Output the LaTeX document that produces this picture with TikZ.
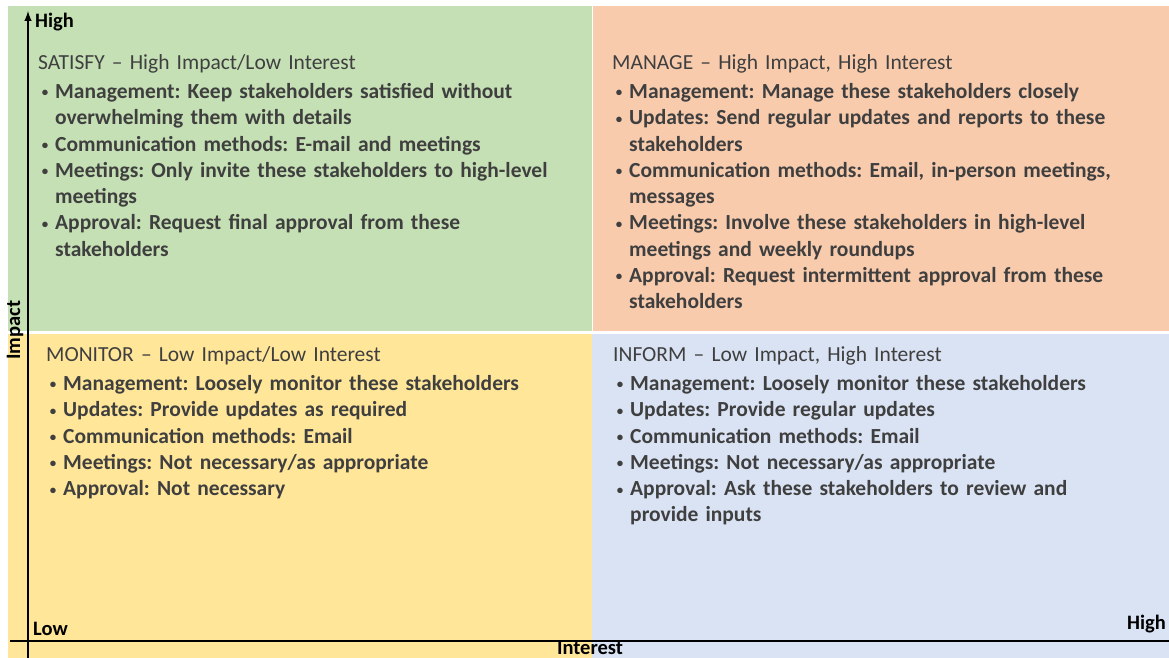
\documentclass[tikz,border=0pt]{standalone}
\usepackage{fontspec}
\setmainfont{Carlito}
\usepackage{xcolor}
\usepackage{tikz}
\usepackage{enumitem}
\usetikzlibrary{positioning}
\definecolor{Gruen}{HTML}{C5E0B4}
\definecolor{Orange}{HTML}{F8CBAD}
\definecolor{Gelb}{HTML}{FFE699}
\definecolor{Blau}{HTML}{DAE3F3}
\definecolor{Textgrau}{HTML}{3F3F3F}
\newcommand{\Punkt}{\raisebox{0.15ex}{\scalebox{0.6}{\textbullet}}}
\setlist[itemize]{nosep,topsep=3pt,leftmargin=17pt,labelsep=7pt,label=\Punkt}
\frenchspacing
\tikzset{
  Feld/.style={fill=#1,draw=none}, % für Quadranten
  Block/.style={anchor=north west,inner sep=0pt,text width=540pt,align=left,
    text=Textgrau,font=\fontsize{21.5}{26.3}\selectfont}, % für Textblöcke
  Achse/.style={line width=2.4pt}, % für Achsen
  ALabel/.style={inner sep=0pt,font=\fontsize{20.5}{24}\selectfont\bfseries} % für Achsenbeschriftung
}

\begin{document}
\begin{tikzpicture}[x=1pt,y=-1pt,
>=latex % Voreinstellung für Pfeilspitzen
]
\useasboundingbox (0,0) rectangle (1169,658);

%Quadranten
\fill[Feld=Gruen]  (8,6)     rectangle (592,331);
\fill[Feld=Orange] (593,6)   rectangle (1169,331);
\fill[Feld=Gelb]   (8,334)   rectangle (592,658);
\fill[Feld=Blau]   (592,334) rectangle (1169,658);

%Textblöcke
\node[Block] (Satisfy) at (38,54) {SATISFY – High Impact/Low Interest
\begin{itemize}\bfseries
\item Management: Keep stakeholders satisfied without\newline overwhelming them with details
\item Communication methods: E-mail and meetings
\item Meetings: Only invite these stakeholders to high-level\newline meetings
\item Approval: Request final approval from these\newline stakeholders
\end{itemize}};

\node[Block] (Manage) at (612,54) {MANAGE – High Impact, High Interest
\begin{itemize}\bfseries
\item Management: Manage these stakeholders closely
\item Updates: Send regular updates and reports to these\newline stakeholders
\item Communication methods: Email, in-person meetings,\newline messages
\item Meetings: Involve these stakeholders in high-level\newline meetings and weekly roundups
\item Approval: Request intermittent approval from these\newline stakeholders
\end{itemize}};

\node[Block] (Monitor) at (46,346) {MONITOR – Low Impact/Low Interest
\begin{itemize}\bfseries
\item Management: Loosely monitor these stakeholders
\item Updates: Provide updates as required
\item Communication methods: Email
\item Meetings: Not necessary/as appropriate
\item Approval: Not necessary
\end{itemize}};

\node[Block] (Inform) at (613,346) {INFORM – Low Impact, High Interest
\begin{itemize}\bfseries
\item Management: Loosely monitor these stakeholders
\item Updates: Provide regular updates
\item Communication methods: Email
\item Meetings: Not necessary/as appropriate
\item Approval: Ask these stakeholders to review and\newline provide inputs
\end{itemize}};

%Achsen
\coordinate (yFuss)   at (28,658);
\coordinate (ySpitze) at (28,11);
\coordinate (xAnfang) at (10,641);
\coordinate (xEnde)   at (1169,641);
\draw[Achse,->] (yFuss) -- (ySpitze);
\draw[Achse] (xAnfang) -- (xEnde);

%Achsenbeschriftung
\node[ALabel,anchor=west] (yHigh) at (35,22) {High};
\node[ALabel,anchor=west] (xLow) at (33,629) {Low};
\node[ALabel,anchor=east] (xHigh) at (1166,624) {High};
\node[ALabel,below=0pt of xEnde-|yFuss,xshift=562pt] (Interest) {Interest};
\node[ALabel,rotate=90] (Impact) at (15,330) {Impact};

\end{tikzpicture}
\end{document}
